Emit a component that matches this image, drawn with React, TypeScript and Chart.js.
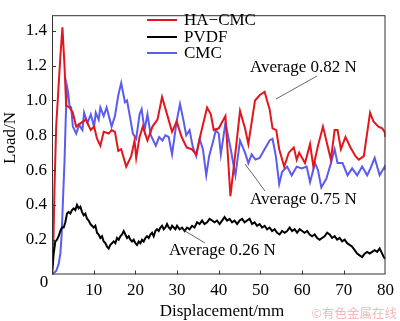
import React, { useEffect, useRef } from "react";
import { Chart, registerables } from "chart.js";

Chart.register(...registerables);

const xTicks = [0, 10, 20, 30, 40, 50, 60, 70, 80];
const yTicks = [0.2, 0.4, 0.6, 0.8, 1.0, 1.2, 1.4];
const seriesNames = ["HA\u2212CMC", "PVDF", "CMC"];
const seriesColors = ["#e3161d", "#000000", "#5b5bef"];
const averageLabels = ["Average 0.82 N", "Average 0.75 N", "Average 0.26 N"];

const hcX = [0, 0.3, 0.6, 1.0, 1.5, 2.0, 2.5, 3.0, 3.4, 4.2, 5.0, 5.8, 6.9, 8.1, 9.3, 10.1, 10.8, 11.6, 12.4, 13.6, 14.3, 15.1, 15.9, 16.6, 17.8, 19.0, 19.8, 20.2, 21.0, 21.8, 22.9, 24.1, 25.3, 26.4, 27.6, 28.8, 29.9, 31.1, 32.3, 33.5, 34.6, 35.8, 37.2, 38.1, 38.8, 40.0, 41.6, 42.8, 44.0, 45.1, 46.3, 47.1, 48.7, 49.8, 51.0, 51.7, 52.2, 52.9, 53.8, 54.5, 55.7, 56.8, 58.0, 58.7, 59.3, 60.7, 61.9, 62.7, 63.8, 65.0, 66.2, 66.9, 67.8, 68.5, 69.3, 70.4, 71.6, 72.8, 73.6, 74.8, 76.3, 77.1, 78.3, 79.2, 79.8, 80];
const hcY = [0, 0.15, 0.5, 0.85, 1.05, 1.25, 1.42, 1.2, 0.97, 0.96, 0.93, 0.85, 0.87, 0.89, 0.83, 0.85, 0.78, 0.74, 0.82, 0.81, 0.83, 0.82, 0.71, 0.72, 0.62, 0.68, 0.77, 0.67, 0.79, 0.85, 0.77, 0.85, 0.89, 1.02, 0.92, 0.82, 0.88, 0.79, 0.73, 0.72, 0.69, 0.82, 0.96, 0.92, 0.83, 0.84, 0.91, 0.45, 0.70, 0.94, 0.84, 0.75, 1.0, 1.03, 1.05, 0.99, 0.95, 0.84, 0.83, 0.72, 0.62, 0.70, 0.73, 0.66, 0.70, 0.64, 0.75, 0.62, 0.74, 0.85, 0.73, 0.66, 0.83, 0.83, 0.72, 0.79, 0.73, 0.68, 0.66, 0.68, 0.93, 0.88, 0.85, 0.84, 0.82, 0.79];

const cmcX = [0, 1.0, 1.6, 2.0, 2.3, 2.65, 3.0, 3.3, 3.6, 3.9, 4.2, 4.6, 5.0, 5.8, 6.5, 7.3, 7.7, 8.5, 9.3, 10.1, 10.5, 11.2, 11.6, 12.4, 13.1, 14.3, 15.1, 15.9, 16.6, 17.5, 18.0, 18.6, 19.4, 20.2, 21.0, 21.5, 22.2, 22.9, 23.7, 24.9, 25.7, 26.5, 27.2, 28.0, 28.8, 29.9, 30.7, 31.5, 32.2, 33.0, 33.8, 34.6, 35.4, 36.2, 37.0, 37.7, 38.8, 39.3, 40.0, 40.5, 41.6, 42.8, 44.0, 45.1, 46.3, 47.1, 47.9, 48.8, 49.8, 51.0, 52.2, 52.9, 53.7, 54.5, 55.2, 56.4, 57.5, 58.7, 59.9, 61.1, 61.9, 63.1, 63.8, 64.6, 65.8, 66.8, 67.8, 68.5, 69.7, 70.9, 72.0, 73.2, 74.4, 75.6, 76.4, 77.4, 78.6, 79.8, 80];
const cmcY = [0, 0.02, 0.06, 0.12, 0.22, 0.44, 0.65, 0.9, 1.08, 1.04, 0.97, 0.96, 0.85, 0.81, 0.86, 0.83, 0.93, 0.87, 0.92, 0.85, 0.93, 0.89, 0.96, 0.91, 0.96, 0.85, 0.91, 1.03, 1.10, 0.99, 1.0, 0.92, 0.81, 0.78, 0.92, 0.95, 0.83, 0.92, 0.80, 0.74, 0.79, 0.77, 0.80, 0.79, 0.69, 0.88, 0.98, 0.89, 0.80, 0.83, 0.73, 0.68, 0.78, 0.72, 0.57, 0.68, 0.78, 0.83, 0.81, 0.69, 0.87, 0.73, 0.57, 0.77, 0.70, 0.64, 0.69, 0.66, 0.67, 0.72, 0.77, 0.78, 0.68, 0.52, 0.59, 0.62, 0.57, 0.62, 0.61, 0.62, 0.53, 0.64, 0.60, 0.50, 0.55, 0.63, 0.72, 0.64, 0.64, 0.57, 0.61, 0.57, 0.62, 0.57, 0.61, 0.67, 0.57, 0.62, 0.60];

const pvX = [0, 0.4, 0.8, 1.2, 1.6, 2.0, 2.4, 2.8, 3.2, 3.6, 4.0, 4.4, 4.8, 5.2, 5.6, 6.0, 6.4, 6.8, 7.2, 7.6, 8.0, 8.4, 8.8, 9.2, 9.6, 10.0, 10.4, 10.8, 11.2, 11.6, 12.0, 12.4, 12.8, 13.2, 13.6, 14.0, 14.4, 14.8, 15.2, 15.6, 16.0, 16.4, 16.8, 17.2, 17.6, 18.0, 18.4, 18.8, 19.2, 19.6, 20.0, 20.4, 20.8, 21.2, 21.6, 22.0, 22.4, 22.8, 23.2, 23.6, 24.0, 24.4, 24.8, 25.2, 25.6, 26.0, 26.4, 26.8, 27.2, 27.6, 28.0, 28.4, 28.8, 29.2, 29.6, 30.0, 30.6, 31.2, 31.8, 32.4, 33.0, 33.6, 34.2, 34.8, 35.4, 36.0, 36.6, 37.2, 37.8, 38.4, 39.0, 39.6, 40.2, 40.8, 41.4, 42.0, 42.6, 43.2, 43.8, 44.4, 45.0, 45.6, 46.2, 46.8, 47.4, 48.0, 48.6, 49.2, 49.8, 50.4, 51.0, 51.6, 52.2, 52.8, 53.4, 54.0, 54.6, 55.2, 55.8, 56.4, 57.0, 57.6, 58.2, 58.8, 59.4, 60.0, 60.6, 61.2, 61.8, 62.4, 63.0, 63.6, 64.2, 64.8, 65.4, 66.0, 66.6, 67.2, 67.8, 68.4, 69.0, 69.6, 70.2, 70.8, 71.4, 72.0, 72.6, 73.2, 73.8, 74.4, 75.0, 75.6, 76.2, 76.8, 77.4, 78.0, 78.6, 79.2, 79.6, 80];
const pvY = [0, 0.12, 0.19, 0.2, 0.22, 0.25, 0.27, 0.27, 0.3, 0.35, 0.36, 0.35, 0.37, 0.38, 0.37, 0.40, 0.38, 0.39, 0.36, 0.34, 0.35, 0.32, 0.31, 0.29, 0.28, 0.27, 0.28, 0.24, 0.23, 0.21, 0.22, 0.19, 0.18, 0.16, 0.15, 0.17, 0.18, 0.19, 0.18, 0.21, 0.2, 0.22, 0.23, 0.25, 0.23, 0.21, 0.22, 0.2, 0.19, 0.2, 0.18, 0.17, 0.19, 0.18, 0.2, 0.19, 0.21, 0.22, 0.21, 0.23, 0.24, 0.22, 0.25, 0.26, 0.25, 0.27, 0.28, 0.26, 0.27, 0.29, 0.27, 0.26, 0.28, 0.27, 0.26, 0.28, 0.26, 0.27, 0.25, 0.27, 0.26, 0.28, 0.27, 0.3, 0.29, 0.31, 0.29, 0.3, 0.32, 0.31, 0.3, 0.31, 0.29, 0.31, 0.33, 0.31, 0.32, 0.3, 0.31, 0.29, 0.31, 0.32, 0.3, 0.31, 0.32, 0.29, 0.3, 0.28, 0.29, 0.27, 0.28, 0.26, 0.27, 0.25, 0.26, 0.24, 0.23, 0.25, 0.24, 0.25, 0.27, 0.25, 0.26, 0.24, 0.26, 0.25, 0.24, 0.25, 0.23, 0.22, 0.23, 0.21, 0.2, 0.21, 0.22, 0.24, 0.23, 0.21, 0.22, 0.2, 0.21, 0.19, 0.2, 0.18, 0.17, 0.16, 0.14, 0.12, 0.11, 0.1, 0.12, 0.13, 0.12, 0.13, 0.14, 0.13, 0.15, 0.12, 0.1, 0.09];

const FONT = "'Liberation Serif', 'Times New Roman', serif";

function pts(xs: number[], ys: number[]) {
  return xs.map((x, i) => ({ x, y: ys[i] }));
}

const decor = {
  id: "decor",
  afterDraw(chart: any) {
    const { ctx, chartArea: a, scales } = chart;
    const xs = scales.x;
    const ys = scales.y;
    ctx.save();
    ctx.strokeStyle = "#333";
    ctx.lineWidth = 1;
    ctx.strokeRect(a.left + 0.5, a.top + 0.5, a.right - a.left - 1, a.bottom - a.top - 1);
    ctx.beginPath();
    xTicks.forEach((v) => {
      if (v === 0 || v === 80) return;
      const px = Math.round(xs.getPixelForValue(v)) + 0.5;
      ctx.moveTo(px, a.bottom);
      ctx.lineTo(px, a.bottom - 4);
    });
    yTicks.forEach((v) => {
      const py = Math.round(ys.getPixelForValue(v)) + 0.5;
      ctx.moveTo(a.left, py);
      ctx.lineTo(a.left + 4, py);
    });
    ctx.stroke();
    ctx.fillStyle = "#000";
    ctx.font = `17px ${FONT}`;
    ctx.textAlign = "center";
    ctx.textBaseline = "middle";
    ctx.fillText("0", 44, 283);
    ctx.textBaseline = "alphabetic";
    ctx.fillText("Displacement/mm", 222, 316);
    ctx.save();
    ctx.translate(15, 138);
    ctx.rotate(-Math.PI / 2);
    ctx.fillText("Load/N", 0, 0);
    ctx.restore();
    const ly = [20, 37, 53];
    seriesNames.forEach((name, i) => {
      ctx.strokeStyle = seriesColors[i];
      ctx.lineWidth = 2;
      ctx.beginPath();
      ctx.moveTo(147, ly[i]);
      ctx.lineTo(177, ly[i]);
      ctx.stroke();
      ctx.fillStyle = "#000";
      ctx.textAlign = "left";
      ctx.textBaseline = "middle";
      ctx.fillText(name, 184, ly[i] + 1);
    });
    ctx.strokeStyle = "#444";
    ctx.lineWidth = 0.8;
    const leaders = [
      [317, 76, 276, 99],
      [265, 191, 245, 164],
      [205, 243, 180, 228],
    ];
    leaders.forEach((l) => {
      ctx.beginPath();
      ctx.moveTo(l[0], l[1]);
      ctx.lineTo(l[2], l[3]);
      ctx.stroke();
    });
    const labelPos = [
      [250, 68],
      [250, 200],
      [169, 251],
    ];
    ctx.fillStyle = "#000";
    ctx.textAlign = "left";
    ctx.textBaseline = "middle";
    averageLabels.forEach((t, i) => ctx.fillText(t, labelPos[i][0], labelPos[i][1]));
    ctx.fillStyle = "#f1b9b9";
    ctx.font = "12.5px 'Noto Sans CJK SC', sans-serif";
    ctx.textAlign = "right";
    ctx.fillText("\u00a9有色金属在线", 397, 313);
    ctx.restore();
  },
};

export default function App() {
  const ref = useRef<HTMLCanvasElement | null>(null);
  useEffect(() => {
    if (!ref.current) return;
    const chart = new Chart(ref.current, {
      type: "line",
      data: {
        datasets: [
          { label: seriesNames[1], data: pts(pvX, pvY), borderColor: seriesColors[1], borderWidth: 2, pointRadius: 0, tension: 0, order: 1 },
          { label: seriesNames[0], data: pts(hcX, hcY), borderColor: seriesColors[0], borderWidth: 2, pointRadius: 0, tension: 0, order: 2 },
          { label: seriesNames[2], data: pts(cmcX, cmcY), borderColor: seriesColors[2], borderWidth: 2, pointRadius: 0, tension: 0, order: 3 },
        ],
      },
      options: {
        responsive: false,
        animation: false,
        devicePixelRatio: 1,
        layout: { padding: { top: 1, right: 6, left: 0, bottom: 0 } },
        plugins: { legend: { display: false }, tooltip: { enabled: false } },
        scales: {
          x: {
            type: "linear",
            min: 0,
            max: 80,
            grid: { display: false, drawTicks: false },
            border: { display: false },
            afterFit: (s: any) => { s.height = 46.5; },
            afterBuildTicks: (s: any) => { s.ticks = xTicks.map((v) => ({ value: v })); },
            ticks: {
              autoSkip: false,
              maxRotation: 0,
              padding: 6,
              color: "#000",
              font: { family: FONT, size: 17 },
              callback: (v: any) => (v === 0 ? "" : String(v)),
            },
          },
          y: {
            type: "linear",
            min: 0,
            max: 1.49,
            grid: { display: false, drawTicks: false },
            border: { display: false },
            afterFit: (s: any) => { s.width = 52; },
            afterBuildTicks: (s: any) => { s.ticks = yTicks.map((v) => ({ value: v })); },
            ticks: {
              autoSkip: false,
              padding: 5,
              color: "#000",
              font: { family: FONT, size: 17 },
              callback: (v: any) => Number(v).toFixed(1),
            },
          },
        },
      },
      plugins: [decor],
    });
    return () => chart.destroy();
  }, []);
  return (
    <div style={{ position: "fixed", left: 0, top: 0, width: 400, height: 321, background: "#fff" }}>
      <canvas ref={ref} width={400} height={321} />
    </div>
  );
}
